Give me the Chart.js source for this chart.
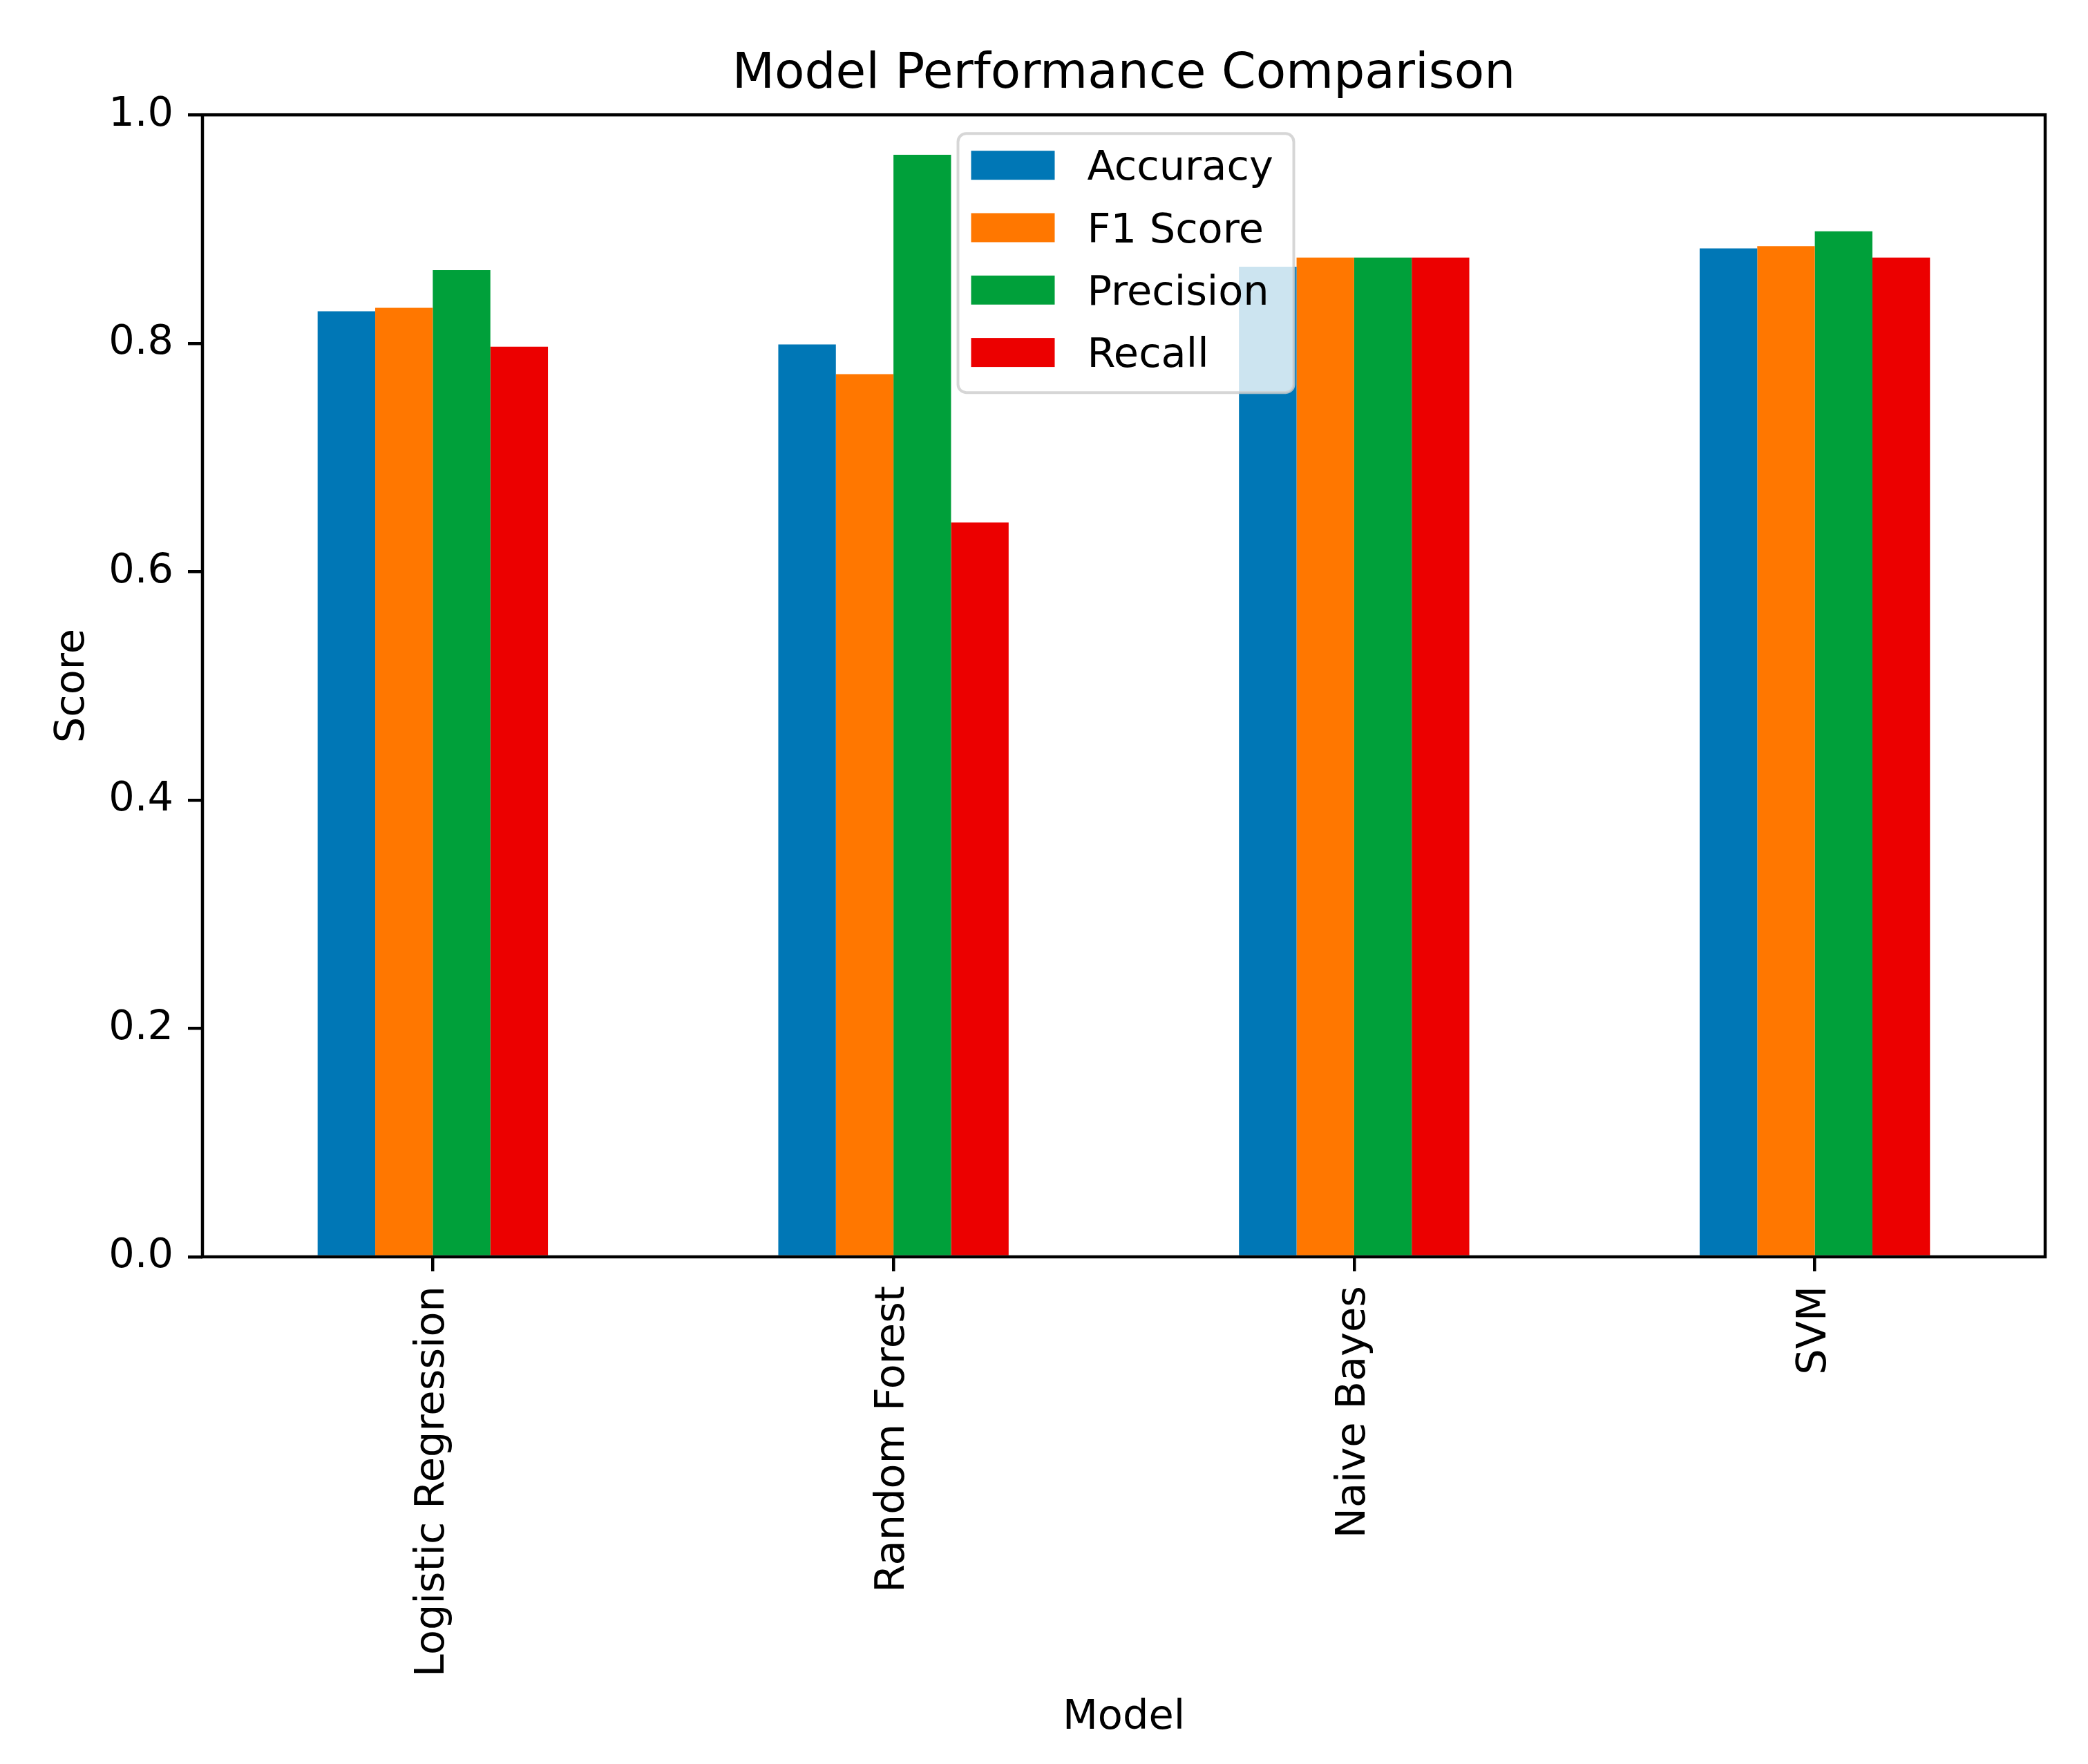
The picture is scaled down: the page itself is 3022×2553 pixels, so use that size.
<!DOCTYPE html>
<html>
<head>
<meta charset="utf-8">
<script src="https://cdn.jsdelivr.net/npm/chart.js@4.4.1/dist/chart.umd.min.js"></script>
<style>
  html, body { margin: 0; padding: 0; background: #fff; }
  #wrap { width: 3022px; height: 2553px; position: relative; }
</style>
</head>
<body>
<div id="wrap"><canvas id="myChart"></canvas></div>
<script>
const models = ['Logistic Regression', 'Random Forest', 'Naive Bayes', 'SVM'];
const accuracy = [0.828, 0.799, 0.867, 0.883];
const f1Score = [0.831, 0.773, 0.875, 0.885];
const precision = [0.864, 0.965, 0.875, 0.898];
const recall = [0.797, 0.643, 0.875, 0.875];
const yTicks = [0, 0.2, 0.4, 0.6, 0.8, 1.0];

const FONT = 'DejaVu Sans';
Chart.defaults.color = '#000';
Chart.defaults.font.family = FONT;

// matplotlib style frame + legend box in the upper middle
const mplBits = {
  id: 'mplBits',
  afterDraw(chart) {
    const ctx = chart.ctx;
    const a = chart.chartArea;
    ctx.save();
    ctx.strokeStyle = '#000';
    ctx.lineWidth = 4.5;
    ctx.strokeRect(a.left, a.top, a.right - a.left, a.bottom - a.top);

    const w = 486, h = 375;
    const x0 = (a.left + a.right) / 2 - w / 2 + 3;
    const y0 = a.top + 27;
    ctx.beginPath();
    ctx.roundRect(x0, y0, w, h, 12);
    ctx.fillStyle = 'rgba(255,255,255,0.8)';
    ctx.fill();
    ctx.strokeStyle = 'rgba(204,204,204,0.8)';
    ctx.lineWidth = 4;
    ctx.stroke();

    ctx.font = '59px "' + FONT + '"';
    ctx.textBaseline = 'alphabetic';
    ctx.textAlign = 'left';
    chart.data.datasets.forEach((ds, i) => {
      const cy = y0 + 46 + i * 90.3;
      ctx.fillStyle = ds.backgroundColor;
      ctx.fillRect(x0 + 19, cy - 21, 121, 42);
      ctx.fillStyle = '#000';
      ctx.fillText(ds.label, x0 + 187, cy + 21);
    });
    ctx.restore();
  }
};

const ctx = document.getElementById('myChart').getContext('2d');
new Chart(ctx, {
  type: 'bar',
  data: {
    labels: models,
    datasets: [
      { label: 'Accuracy', data: accuracy, backgroundColor: '#0077b6' },
      { label: 'F1 Score', data: f1Score, backgroundColor: '#ff7700' },
      { label: 'Precision', data: precision, backgroundColor: '#00a03a' },
      { label: 'Recall', data: recall, backgroundColor: '#ec0000' }
    ]
  },
  options: {
    responsive: true,
    maintainAspectRatio: false,
    devicePixelRatio: 1,
    animation: false,
    layout: { padding: { left: 0, right: 62, top: 0, bottom: 0 } },
    datasets: { bar: { barPercentage: 1.0, categoryPercentage: 0.5, borderWidth: 0 } },
    plugins: {
      legend: { display: false },
      tooltip: { enabled: false },
      title: {
        display: true,
        fullSize: false,
        text: 'Model Performance Comparison',
        color: '#000',
        font: { size: 71, weight: 'normal' },
        padding: { top: 66, bottom: 15 }
      }
    },
    scales: {
      x: {
        afterFit(scale) { scale.height = 734; },
        border: { display: false },
        grid: { drawOnChartArea: false, drawTicks: true, tickLength: 21, offset: false, color: '#000', lineWidth: 4.5 },
        ticks: { autoSkip: false, maxRotation: 90, minRotation: 90, padding: 21, font: { size: 59 } },
        title: { display: true, text: 'Model', font: { size: 59 }, padding: { top: 0, bottom: 31 } }
      },
      y: {
        min: 0,
        max: 1,
        afterFit(scale) { scale.width = 293; },
        afterBuildTicks(scale) { scale.ticks = yTicks.map(v => ({ value: v })); },
        border: { display: false },
        grid: { drawOnChartArea: false, drawTicks: true, tickLength: 21, color: '#000', lineWidth: 4.5 },
        ticks: { padding: 21, font: { size: 59 }, callback: v => Number(v).toFixed(1) },
        title: { display: true, text: 'Score', font: { size: 59 }, padding: { top: 70, bottom: 0 } }
      }
    }
  },
  plugins: [mplBits]
});
</script>
</body>
</html>
